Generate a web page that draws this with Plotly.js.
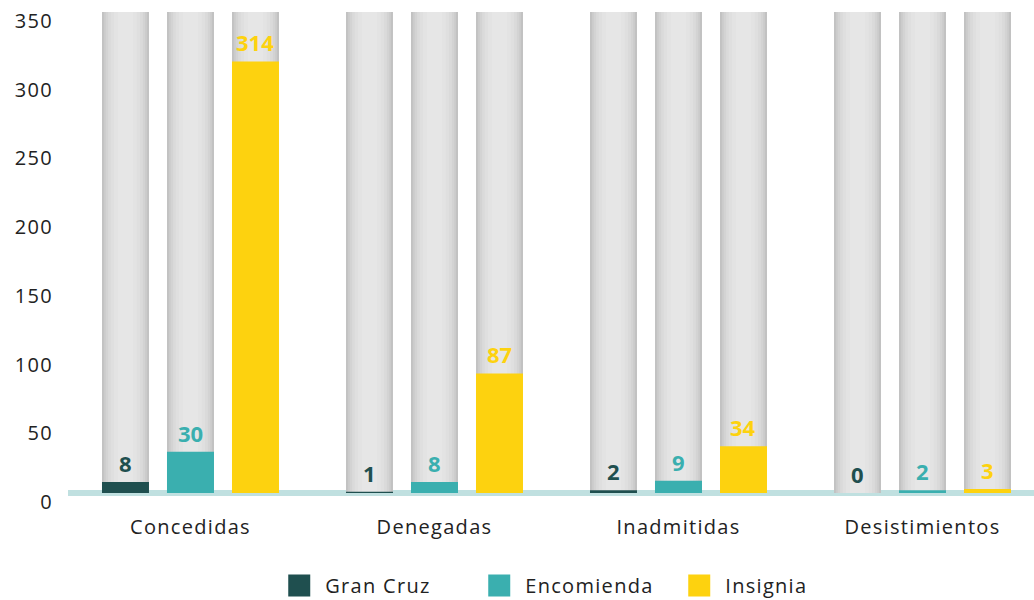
<!DOCTYPE html>
<html>
<head>
<meta charset="utf-8">
<script src="https://cdn.plot.ly/plotly-3.0.1.min.js"></script>
<style>
  html, body { margin: 0; padding: 0; background: #fff; }
  #chart { width: 1034px; height: 600px; }
  .xtick text, .ytick text, .legendtext { letter-spacing: 1.3px; }
</style>
</head>
<body>
<div id="chart"></div>
<script>
// ---- data ----
const categories = ["Concedidas", "Denegadas", "Inadmitidas", "Desistimientos"];
const seriesNames = ["Gran Cruz", "Encomienda", "Insignia"];
const granCruz = [8, 1, 2, 0];
const encomienda = [30, 8, 9, 2];
const insignia = [314, 87, 34, 3];
const backgroundMax = [350, 350, 350, 350];
const yTicks = [0, 50, 100, 150, 200, 250, 300, 350];

// ---- styling ----
const seriesValues = [granCruz, encomienda, insignia];
const seriesColors = ["#1f4f4f", "#3aafaf", "#fdd20f"];
const barWidth = 0.1926;
const step = 0.2664;
const offsets = [-step, 0, step];
const FONT = "Open Sans, sans-serif";

const traces = [];
// gray cylinder-like background bars (layers to simulate gradient)
const layers = [
  { f: 1.00, c: "#c2c2c2" },
  { f: 0.92, c: "#cbcbcb" },
  { f: 0.84, c: "#d3d3d3" },
  { f: 0.74, c: "#dadada" },
  { f: 0.62, c: "#dfdfdf" },
  { f: 0.48, c: "#e3e3e3" },
  { f: 0.32, c: "#e6e6e6" }
];
offsets.forEach(function (off) {
  layers.forEach(function (L) {
    const w = barWidth * L.f;
    traces.push({
      type: "bar", x: categories, y: backgroundMax,
      width: w, offset: off - w / 2,
      marker: { color: L.c, line: { width: 0 } },
      showlegend: false, hoverinfo: "skip"
    });
  });
});
seriesValues.forEach(function (vals, i) {
  traces.push({
    type: "bar", name: seriesNames[i], x: categories, y: vals,
    width: barWidth, offset: offsets[i] - barWidth / 2,
    marker: { color: seriesColors[i], line: { width: 0 } }
  });
});

const annotations = [];
seriesValues.forEach(function (vals, i) {
  vals.forEach(function (v, j) {
    annotations.push({
      x: categories[j], y: v, xref: "x", yref: "y",
      xshift: offsets[i] * 244, yshift: 19, yanchor: "middle",
      text: "<b>" + v + "</b>", showarrow: false,
      font: { family: FONT, size: 22, color: seriesColors[i] }
    });
  });
});

const layout = {
  width: 1034, height: 600,
  margin: { l: 68, r: 0, t: 12, b: 107 },
  paper_bgcolor: "#ffffff", plot_bgcolor: "rgba(0,0,0,0)",
  barmode: "overlay",
  font: { family: FONT, size: 20, color: "#222222" },
  xaxis: {
    type: "category", range: [-0.502, 3.457],
    showgrid: false, zeroline: false, showline: false, ticks: "",
    ticklabelstandoff: 20, tickfont: { size: 20, color: "#222222" }
  },
  yaxis: {
    range: [0, 350], tickvals: yTicks, ticktext: yTicks.map(String),
    showgrid: false, zeroline: false, showline: false, ticks: "",
    ticklabelstandoff: 14, ticklabelshift: 9,
    tickfont: { size: 20, color: "#222222" }
  },
  shapes: [{
    type: "line", xref: "paper", yref: "paper",
    x0: 0, x1: 1, y0: 0, y1: 0, layer: "below",
    line: { color: "#c0e0e0", width: 6 }
  }],
  annotations: annotations,
  legend: {
    orientation: "h", xref: "container", yref: "container",
    x: 0.566, xanchor: "center", y: 0, yanchor: "bottom",
    font: { size: 20, color: "#222222" }, itemclick: false,
    entrywidth: 155, entrywidthmode: "pixels"
  },
  showlegend: true
};

Plotly.newPlot("chart", traces, layout, { displayModeBar: false, staticPlot: true }).then(function (gd) {
  document.querySelectorAll(".legend .legendpoints path").forEach(function (p) {
    p.setAttribute("d", "M5,11H-17V-11H5Z");
  });
  const lg = document.querySelector("g.legend");
  if (lg) {
    const m = /translate\(([-\d.]+)[ ,]+([-\d.]+)\)/.exec(lg.getAttribute("transform") || "");
    if (m) lg.setAttribute("transform", "translate(" + m[1] + "," + (parseFloat(m[2]) + 5) + ")");
  }
});
</script>
</body>
</html>
